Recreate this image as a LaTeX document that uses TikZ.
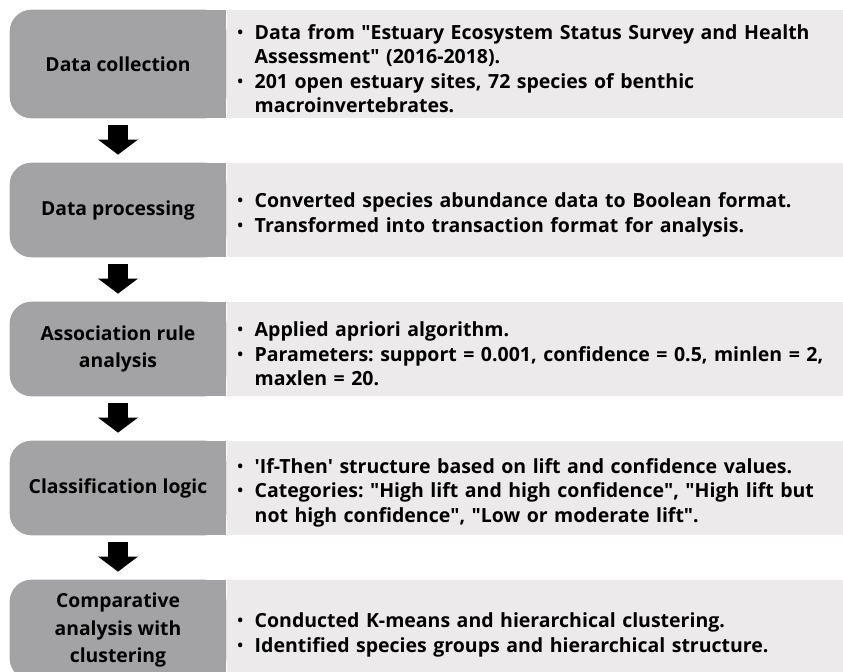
\documentclass[tikz,border=0pt]{standalone}
\usepackage{fontspec}
\setmainfont{Open Sans}
\usetikzlibrary{positioning, arrows.meta, backgrounds}

\definecolor{stagegray}{RGB}{163,163,165}
\definecolor{notegray}{RGB}{236,234,235}

% one bullet point, later lines hang under the text
\newcommand{\bul}[1]{\par\noindent\hangindent=0.36cm\hangafter=1\makebox[0.36cm][l]{\mdseries•}#1\par}
\newcommand{\qq}{\textquotedbl}

\tikzset{
  stage/.style={minimum width=4.32cm, inner sep=2pt, align=center,
    font=\bfseries\fontsize{11}{15.6}\selectfont},
  note/.style={fill=notegray, anchor=west, minimum width=12.34cm, text width=12.2cm,
    inner xsep=0.2cm, inner ysep=0pt, align=left,
    font=\bfseries\fontsize{11.1}{13.9}\selectfont\frenchspacing},
  flow/.style={line width=0.4cm, -{Triangle[width=0.78cm, length=0.3cm]}}
}

\begin{document}
\begin{tikzpicture}
\useasboundingbox (0,0) rectangle (16.86,-13.42);

\node[stage, minimum height=2.16cm] (collect) at (2.36,-1.28) {Data collection};
\node[note, minimum height=2.16cm] (collectnote) at (collect.east) {%
  \bul{Data from \qq Estuary Ecosystem Status Survey and Health\newline
  Assessment\qq{} (2016-2018).}
  \bul{201 open estuary sites, 72 species of benthic\newline
  macroinvertebrates.}};

\node[stage, minimum height=1.88cm] (process) at (2.36,-4.20) {Data processing};
\node[note, minimum height=1.88cm] (processnote) at (process.east) {%
  \bul{Converted species abundance data to Boolean format.}
  \bul{Transformed into transaction format for analysis.}};

\node[stage, minimum height=1.88cm] (rules) at (2.36,-6.98) {Association rule\\analysis};
\node[note, minimum height=1.88cm] (rulesnote) at (rules.east) {%
  \bul{Applied apriori algorithm.}
  \bul{Parameters: support = 0.001, confidence = 0.5, minlen = 2,\newline
  maxlen = 20.}};

\node[stage, minimum height=1.88cm] (classify) at (2.36,-9.76) {Classification logic};
\node[note, minimum height=1.88cm] (classifynote) at (classify.east) {%
  \bul{\textquotesingle If-Then\textquotesingle{} structure based on lift and confidence values.}
  \bul{Categories: \qq High lift and high confidence\qq, \qq High lift but\newline
  not high confidence\qq, \qq Low or moderate lift\qq.}};

\node[stage, minimum height=2cm] (compare) at (2.36,-12.6) {Comparative\\analysis with\\clustering};
\node[note, minimum height=2cm] (comparenote) at (compare.east) {%
  \bul{Conducted K-means and hierarchical clustering.}
  \bul{Identified species groups and hierarchical structure.}};

% grey stage boxes, rounded on the left only
\begin{scope}[on background layer]
  \foreach \s in {collect, process, rules, classify, compare} {
    \fill[stagegray, rounded corners=0.44cm] (\s.north west) rectangle (\s.south east);
    \fill[stagegray] (\s.north) rectangle (\s.south east);
  }
\end{scope}

\draw[flow] ([yshift=-0.14cm]collect.south) -- ([yshift=0.16cm]process.north);
\draw[flow] ([yshift=-0.14cm]process.south) -- ([yshift=0.16cm]rules.north);
\draw[flow] ([yshift=-0.14cm]rules.south) -- ([yshift=0.16cm]classify.north);
\draw[flow] ([yshift=-0.14cm]classify.south) -- ([yshift=0.16cm]compare.north);
\end{tikzpicture}
\end{document}
